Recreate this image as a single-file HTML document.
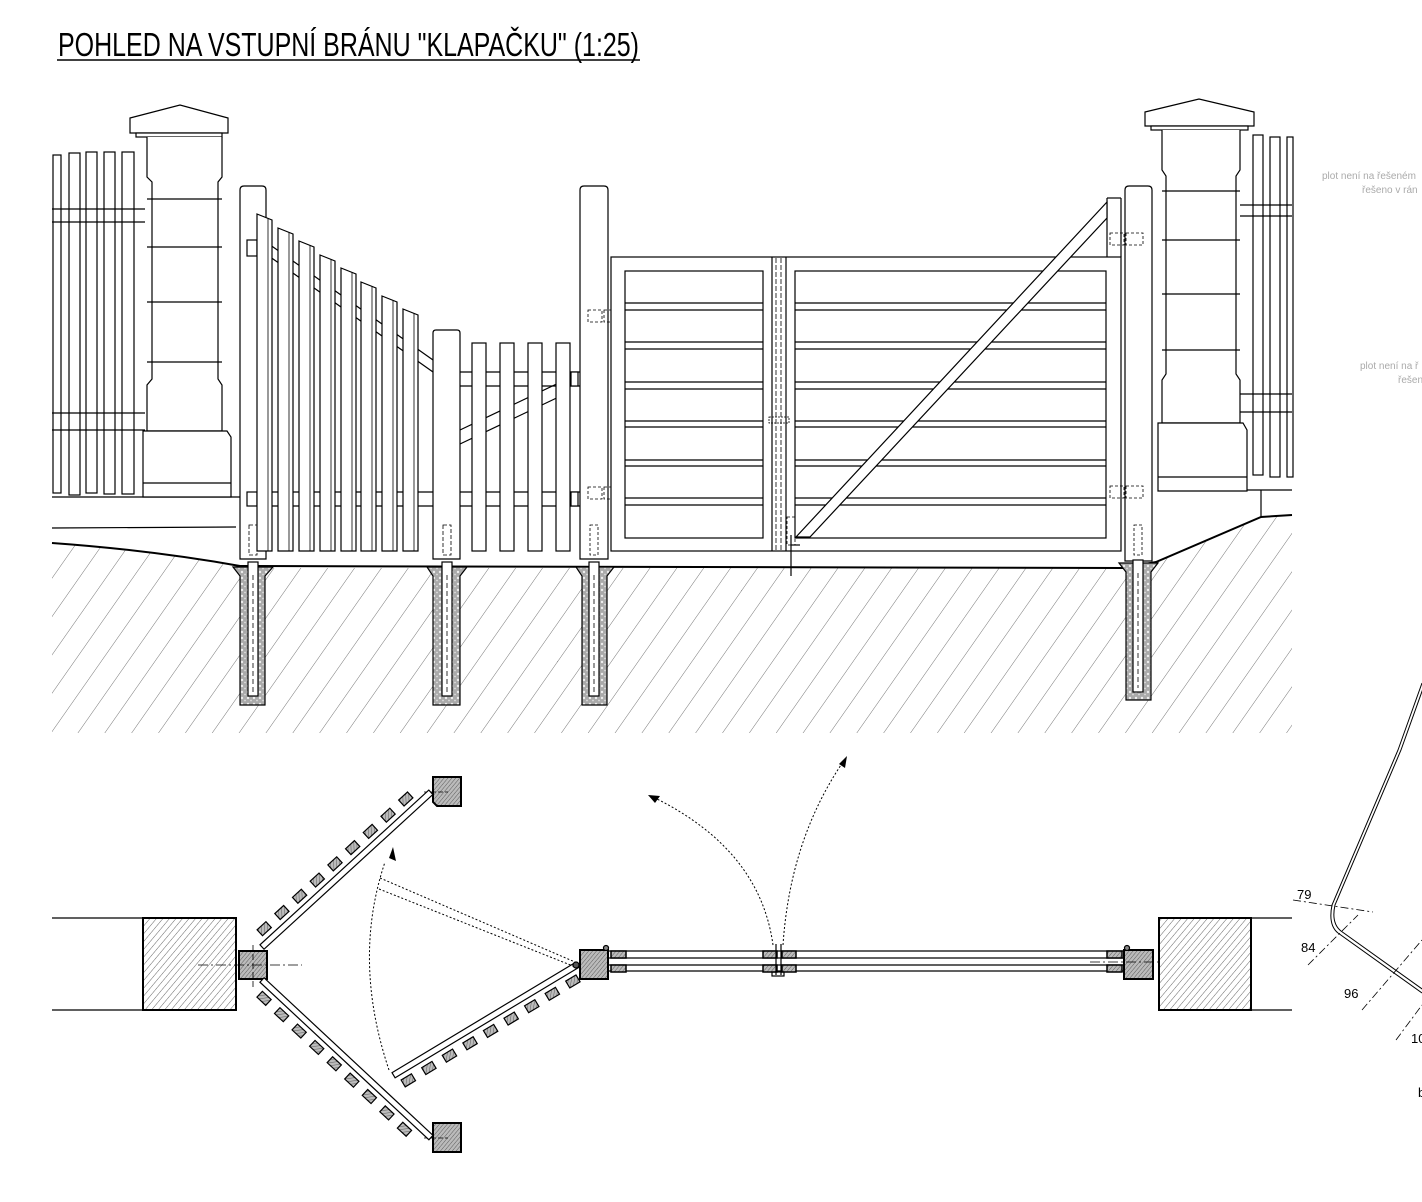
<!DOCTYPE html>
<html><head><meta charset="utf-8"><style>
html,body{margin:0;padding:0;background:#fff;}
svg{display:block;}
</style></head><body>
<svg width="1422" height="1202" viewBox="0 0 1422 1202" xmlns="http://www.w3.org/2000/svg" font-family="Liberation Sans, sans-serif">
<defs>
<pattern id="gh" width="22" height="22" patternUnits="userSpaceOnUse" patternTransform="rotate(35)">
<line x1="0" y1="0" x2="0" y2="22" stroke="#777" stroke-width="1"/>
</pattern>
<pattern id="ph" width="5" height="5" patternUnits="userSpaceOnUse" patternTransform="rotate(40)">
<rect width="5" height="5" fill="#fff"/>
<line x1="0" y1="0" x2="0" y2="5" stroke="#666" stroke-width="1"/>
</pattern>
<pattern id="sh" width="3" height="3" patternUnits="userSpaceOnUse" patternTransform="rotate(40)">
<rect width="3" height="3" fill="#bbb"/>
<line x1="0" y1="0" x2="0" y2="3" stroke="#444" stroke-width="0.8"/>
</pattern>
<pattern id="conc" width="6" height="6" patternUnits="userSpaceOnUse">
<rect width="6" height="6" fill="#aaa"/>
<circle cx="2" cy="2" r="1.2" fill="#eee"/><circle cx="5" cy="4.5" r="0.9" fill="#ddd"/>
</pattern>
</defs>

<!-- Title -->
<text x="58" y="56" font-size="33" textLength="581" lengthAdjust="spacingAndGlyphs" fill="#000">POHLED NA VSTUPNÍ BRÁNU "KLAPAČKU" (1:25)</text>
<line x1="57" y1="60" x2="640" y2="60" stroke="#000" stroke-width="1.5"/>

<!-- Ground hatch -->
<path d="M52,543 Q150,550 240,566 L240,568 L1123,568 L1156,562 L1261,517 L1292,515 L1292,733 L52,733 Z" fill="url(#gh)"/>
<path d="M52,543 Q150,550 240,566 L1123,568 L1156,562 L1261,517 L1292,515" fill="none" stroke="#000" stroke-width="2"/>

<g fill="none" stroke="#000" stroke-width="1.2">
<!-- left ground lines -->
<line x1="52" y1="497" x2="240" y2="497"/>
<line x1="52" y1="528" x2="236" y2="527"/>

<!-- Left pickets -->
<g fill="#fff">
<rect x="53" y="155" width="8" height="338"/>
<rect x="69" y="153" width="11" height="342"/>
<rect x="86" y="152" width="11" height="341"/>
<rect x="104" y="152" width="11" height="342"/>
<rect x="122" y="152" width="12" height="342"/>
</g>
<line x1="52" y1="209" x2="145" y2="209"/><line x1="52" y1="222" x2="145" y2="222"/>
<line x1="52" y1="413" x2="145" y2="413"/><line x1="52" y1="430" x2="145" y2="430"/>

<!-- Left pillar -->
<path d="M130,118 L180,105 L228,118 L228,133 L130,133 Z" fill="#fff"/>
<rect x="136" y="133" width="86" height="4" fill="#fff"/>
<path d="M147,137 L147,177 L152,182 L152,379 L147,385 L147,431 L222,431 L222,385 L218,379 L218,182 L222,177 L222,137" fill="#fff"/>
<line x1="147" y1="199" x2="222" y2="199"/><line x1="147" y1="247" x2="222" y2="247"/>
<line x1="147" y1="302" x2="222" y2="302"/><line x1="147" y1="362" x2="222" y2="362"/>
<path d="M143,431 L227,431 L231,437 L231,497 L143,497 Z" fill="#fff"/>
<line x1="143" y1="483" x2="231" y2="483"/>

<!-- Right pillar -->
<path d="M1145,112 L1199,99 L1254,112 L1254,126 L1145,126 Z" fill="#fff"/>
<rect x="1151" y="126" width="97" height="4" fill="#fff"/>
<path d="M1162,130 L1162,170 L1166,176 L1166,374 L1162,380 L1162,423 L1240,423 L1240,380 L1236,374 L1236,176 L1240,170 L1240,130" fill="#fff"/>
<line x1="1162" y1="191" x2="1240" y2="191"/><line x1="1162" y1="240" x2="1240" y2="240"/>
<line x1="1162" y1="294" x2="1240" y2="294"/><line x1="1162" y1="350" x2="1240" y2="350"/>
<path d="M1158,423 L1243,423 L1247,430 L1247,491 L1158,491 Z" fill="#fff"/>
<line x1="1158" y1="477" x2="1247" y2="477"/>
<line x1="1247" y1="490" x2="1292" y2="490"/><line x1="1261" y1="490" x2="1261" y2="517"/>
<!-- right pickets -->
<g fill="#fff">
<rect x="1253" y="135" width="10" height="340"/>
<rect x="1270" y="137" width="10" height="340"/>
<rect x="1287" y="137" width="6" height="340"/>
</g>
<line x1="1240" y1="205" x2="1292" y2="205"/><line x1="1240" y1="216" x2="1292" y2="216"/>
<line x1="1240" y1="394" x2="1292" y2="394"/><line x1="1240" y1="412" x2="1292" y2="412"/>

<!-- Rails left panel -->
<line x1="266" y1="492" x2="580" y2="492"/><line x1="266" y1="506" x2="580" y2="506"/>
<line x1="266" y1="242" x2="433" y2="360"/><line x1="266" y1="254" x2="433" y2="372"/>
<line x1="460" y1="372" x2="580" y2="372"/><line x1="460" y1="386" x2="580" y2="386"/>
<line x1="460" y1="430" x2="565" y2="380"/><line x1="460" y1="444" x2="565" y2="394"/>

<!-- Post 1 -->
<path d="M240,559 L240,190 Q240,186 244,186 L262,186 Q266,186 266,190 L266,559 Z" fill="#fff"/>
<rect x="247" y="240" width="10" height="16" fill="#fff"/>
<rect x="247" y="492" width="10" height="14" fill="#fff"/>
<!-- slanted pickets -->
<g fill="#fff">
<path d="M257,214 L272,220 L272,551 L257,551 Z"/>
<path d="M278,228 L293,234 L293,551 L278,551 Z"/>
<path d="M299,241 L314,247 L314,551 L299,551 Z"/>
<path d="M320,255 L335,261 L335,551 L320,551 Z"/>
<path d="M341,268 L356,274 L356,551 L341,551 Z"/>
<path d="M361,282 L376,288 L376,551 L361,551 Z"/>
<path d="M382,296 L397,302 L397,551 L382,551 Z"/>
<path d="M403,309 L418,315 L418,551 L403,551 Z"/>
</g>
<g stroke-width="0.8">
<line x1="268" y1="218" x2="268" y2="551"/><line x1="289" y1="232" x2="289" y2="551"/>
<line x1="310" y1="245" x2="310" y2="551"/><line x1="331" y1="259" x2="331" y2="551"/>
<line x1="352" y1="272" x2="352" y2="551"/><line x1="372" y1="286" x2="372" y2="551"/>
<line x1="393" y1="300" x2="393" y2="551"/><line x1="414" y1="313" x2="414" y2="551"/>
</g>
<rect x="249" y="525" width="8" height="30" stroke-dasharray="4,2" stroke-width="0.8"/>

<!-- Post 2 -->
<path d="M433,559 L433,333 Q433,330 436,330 L457,330 Q460,330 460,333 L460,559 Z" fill="#fff"/>
<rect x="443" y="525" width="8" height="30" stroke-dasharray="4,2" stroke-width="0.8"/>
<g fill="#fff">
<rect x="472" y="343" width="14" height="208"/>
<rect x="500" y="343" width="14" height="208"/>
<rect x="528" y="343" width="14" height="208"/>
<rect x="556" y="343" width="14" height="208"/>
</g>
<rect x="571" y="372" width="7" height="14" fill="#fff"/><rect x="571" y="492" width="7" height="14" fill="#fff"/>
<line x1="578" y1="386" x2="604" y2="384" stroke-dasharray="3,2" stroke-width="0.8"/>
<line x1="578" y1="506" x2="604" y2="504" stroke-dasharray="3,2" stroke-width="0.8"/>

<!-- Post 3 -->
<path d="M580,559 L580,190 Q580,186 584,186 L604,186 Q608,186 608,190 L608,559 Z" fill="#fff"/>
<g stroke-dasharray="3,2" stroke-width="0.8">
<rect x="588" y="310" width="14" height="12"/><rect x="604" y="310" width="17" height="12"/>
<rect x="588" y="487" width="14" height="12"/><rect x="604" y="487" width="17" height="12"/>
<rect x="590" y="525" width="8" height="30"/>
</g>

<!-- Gate frame -->
<rect x="611" y="257" width="510" height="294" fill="#fff"/>
<line x1="1107" y1="198" x2="1107" y2="257"/><line x1="1121" y1="198" x2="1121" y2="257"/><line x1="1107" y1="198" x2="1121" y2="198"/>
<rect x="625" y="271" width="138" height="267"/>
<rect x="795" y="271" width="311" height="267"/>
<line x1="772" y1="257" x2="772" y2="551"/><line x1="786" y1="257" x2="786" y2="551"/>
<line x1="776" y1="258" x2="776" y2="550" stroke-dasharray="5,2" stroke-width="0.8"/>
<line x1="781" y1="258" x2="781" y2="550" stroke-dasharray="5,2" stroke-width="0.8"/>
<rect x="769" y="417" width="20" height="6" stroke-dasharray="2,1" stroke-width="0.8"/>
<g>
<line x1="625" y1="303" x2="763" y2="303"/><line x1="625" y1="310" x2="763" y2="310"/>
<line x1="625" y1="342" x2="763" y2="342"/><line x1="625" y1="349" x2="763" y2="349"/>
<line x1="625" y1="382" x2="763" y2="382"/><line x1="625" y1="389" x2="763" y2="389"/>
<line x1="625" y1="421" x2="763" y2="421"/><line x1="625" y1="427" x2="763" y2="427"/>
<line x1="625" y1="460" x2="763" y2="460"/><line x1="625" y1="466" x2="763" y2="466"/>
<line x1="625" y1="498" x2="763" y2="498"/><line x1="625" y1="505" x2="763" y2="505"/>
<line x1="795" y1="303" x2="1106" y2="303"/><line x1="795" y1="310" x2="1106" y2="310"/>
<line x1="795" y1="342" x2="1106" y2="342"/><line x1="795" y1="349" x2="1106" y2="349"/>
<line x1="795" y1="382" x2="1106" y2="382"/><line x1="795" y1="389" x2="1106" y2="389"/>
<line x1="795" y1="421" x2="1106" y2="421"/><line x1="795" y1="427" x2="1106" y2="427"/>
<line x1="795" y1="460" x2="1106" y2="460"/><line x1="795" y1="466" x2="1106" y2="466"/>
<line x1="795" y1="498" x2="1106" y2="498"/><line x1="795" y1="505" x2="1106" y2="505"/>
</g>
<!-- diagonal brace -->
<path d="M796,537 L810,537 L1107,218 L1107,202 Z" fill="#fff"/>
<!-- latch -->
<rect x="787" y="517" width="8" height="28" stroke-dasharray="3,2" stroke-width="0.8"/>
<line x1="791" y1="535" x2="791" y2="576"/><line x1="791" y1="545" x2="800" y2="545"/>

<!-- Post 4 -->
<path d="M1125,561 L1125,190 Q1125,186 1129,186 L1148,186 Q1152,186 1152,190 L1152,561 Z" fill="#fff"/>
<g stroke-dasharray="3,2" stroke-width="0.8">
<rect x="1110" y="233" width="14" height="12"/><rect x="1126" y="233" width="17" height="12"/>
<rect x="1110" y="486" width="14" height="12"/><rect x="1126" y="486" width="17" height="12"/>
<rect x="1134" y="525" width="8" height="30"/>
</g>
</g>

<!-- Footings -->
<g stroke="#000" stroke-width="1.2">
<g>
<path d="M233,567 L273,567 L265,576 L265,705 L240,705 L240,576 Z" fill="url(#conc)"/>
<rect x="248" y="562" width="10" height="134" fill="#fff"/>
<line x1="253" y1="575" x2="253" y2="693" stroke-dasharray="5,3" stroke-width="0.8"/>
</g>
<g>
<path d="M427,567 L467,567 L460,576 L460,705 L433,705 L433,576 Z" fill="url(#conc)"/>
<rect x="442" y="562" width="10" height="134" fill="#fff"/>
<line x1="447" y1="575" x2="447" y2="693" stroke-dasharray="5,3" stroke-width="0.8"/>
</g>
<g>
<path d="M576,567 L614,567 L607,576 L607,705 L582,705 L582,576 Z" fill="url(#conc)"/>
<rect x="589" y="562" width="10" height="134" fill="#fff"/>
<line x1="594" y1="575" x2="594" y2="693" stroke-dasharray="5,3" stroke-width="0.8"/>
</g>
<g>
<path d="M1119,563 L1158,563 L1151,572 L1151,700 L1126,700 L1126,572 Z" fill="url(#conc)"/>
<rect x="1133" y="560" width="10" height="132" fill="#fff"/>
<line x1="1138" y1="573" x2="1138" y2="688" stroke-dasharray="5,3" stroke-width="0.8"/>
</g>
</g>

<!-- Gray notes -->
<g fill="#aaa" font-size="10">
<text x="1322" y="179">plot není na řešeném</text>
<text x="1362" y="193">řešeno v rán</text>
<text x="1360" y="369">plot není na ř</text>
<text x="1398" y="383">řešen</text>
</g>

<!-- ===== PLAN VIEW ===== -->
<g stroke="#000" stroke-width="1.2" fill="none">
<line x1="52" y1="918" x2="143" y2="918"/><line x1="52" y1="1010" x2="143" y2="1010"/>
<rect x="143" y="918" width="93" height="92" fill="url(#ph)" stroke-width="2"/>
<rect x="239" y="951" width="28" height="28" fill="url(#sh)" stroke-width="2"/>
<line x1="198" y1="965" x2="302" y2="965" stroke-dasharray="10,3,2,3" stroke-width="0.8"/>
<line x1="253" y1="945" x2="253" y2="988" stroke-dasharray="6,3" stroke-width="0.8"/>

<!-- upper square -->
<path d="M433,777 L461,777 L461,806 L437,806 L433,802 Z" fill="url(#sh)" stroke-width="2"/>
<path d="M433,1123 L461,1123 L461,1152 L433,1152 L433,1127 Z" fill="url(#sh)" stroke-width="2"/>
<line x1="424" y1="792" x2="448" y2="792" stroke-dasharray="5,2" stroke-width="0.8"/>
<line x1="424" y1="1138" x2="448" y2="1138" stroke-dasharray="5,2" stroke-width="0.8"/>

<!-- upper leaf -->
<g transform="translate(262,947) rotate(-42.5)">
<rect x="0" y="-3" width="229" height="6" fill="#fff"/>
<g fill="url(#sh)" stroke-width="1.2">
<rect x="8" y="-16" width="12" height="8"/><rect x="32" y="-16" width="12" height="8"/>
<rect x="56" y="-16" width="12" height="8"/><rect x="80" y="-16" width="12" height="8"/>
<rect x="104" y="-16" width="12" height="8"/><rect x="128" y="-16" width="12" height="8"/>
<rect x="152" y="-16" width="12" height="8"/><rect x="176" y="-16" width="12" height="8"/>
<rect x="200" y="-16" width="12" height="8"/>
</g>
</g>
<!-- lower leaf -->
<g transform="translate(262,980) rotate(43)">
<rect x="0" y="-3" width="231" height="6" fill="#fff"/>
<g fill="url(#sh)" stroke-width="1.2">
<rect x="8" y="8" width="12" height="8"/><rect x="32" y="8" width="12" height="8"/>
<rect x="56" y="8" width="12" height="8"/><rect x="80" y="8" width="12" height="8"/>
<rect x="104" y="8" width="12" height="8"/><rect x="128" y="8" width="12" height="8"/>
<rect x="152" y="8" width="12" height="8"/><rect x="176" y="8" width="12" height="8"/>
<rect x="200" y="8" width="12" height="8"/>
</g>
</g>
<!-- open leaf -->
<g transform="translate(577,965) rotate(149)">
<rect x="0" y="-3" width="214" height="6" fill="#fff"/>
<g fill="url(#sh)" stroke-width="1.2">
<rect x="6" y="-16" width="12" height="8"/><rect x="30" y="-16" width="12" height="8"/>
<rect x="54" y="-16" width="12" height="8"/><rect x="78" y="-16" width="12" height="8"/>
<rect x="102" y="-16" width="12" height="8"/><rect x="126" y="-16" width="12" height="8"/>
<rect x="150" y="-16" width="12" height="8"/><rect x="174" y="-16" width="12" height="8"/>
<rect x="198" y="-16" width="12" height="8"/>
</g>
</g>
<circle cx="576" cy="965" r="3" fill="#555"/>

<!-- swing arc and dotted ghost leaf -->
<path d="M389,1070 Q352,960 385,862" stroke-dasharray="2,2" stroke-width="1"/>
<path d="M389,858 L393,847 L396,861 Z" fill="#000" stroke="none"/>
<line x1="380" y1="878" x2="575" y2="962" stroke-dasharray="2,2" stroke-width="1"/>
<line x1="379" y1="889" x2="573" y2="966" stroke-dasharray="2,2" stroke-width="1"/>

<!-- gate plan -->
<rect x="580" y="950" width="28" height="29" fill="url(#sh)" stroke-width="2"/>
<circle cx="606" cy="948" r="2.5" fill="#888"/>
<line x1="608" y1="951" x2="1124" y2="951"/><line x1="608" y1="958" x2="1124" y2="958"/>
<line x1="608" y1="965" x2="1124" y2="965"/><line x1="608" y1="971" x2="1124" y2="971"/>
<g fill="url(#sh)" stroke-width="1.5">
<rect x="611" y="951" width="15" height="7"/><rect x="611" y="965" width="15" height="7"/>
<rect x="763" y="951" width="14" height="7"/><rect x="782" y="951" width="14" height="7"/>
<rect x="763" y="965" width="14" height="7"/><rect x="782" y="965" width="14" height="7"/>
<rect x="1107" y="951" width="15" height="7"/><rect x="1107" y="965" width="15" height="7"/>
</g>
<line x1="776" y1="944" x2="776" y2="975"/><line x1="781" y1="944" x2="781" y2="975"/>
<rect x="772" y="972" width="12" height="4"/>
<rect x="1124" y="950" width="29" height="29" fill="url(#sh)" stroke-width="2"/>
<circle cx="1127" cy="948" r="2.5" fill="#888"/>
<line x1="1090" y1="962" x2="1196" y2="962" stroke-dasharray="10,3,2,3" stroke-width="0.8"/>
<rect x="1159" y="918" width="92" height="92" fill="url(#ph)" stroke-width="2"/>
<line x1="1251" y1="918" x2="1292" y2="918"/><line x1="1251" y1="1010" x2="1292" y2="1010"/>

<!-- dotted swing arrows -->
<path d="M773,945 Q760,850 655,798" stroke-dasharray="2,2" stroke-width="1"/>
<path d="M648,795 L660,796 L655,803 Z" fill="#000" stroke="none"/>
<path d="M783,945 Q790,840 843,762" stroke-dasharray="2,2" stroke-width="1"/>
<path d="M847,756 L845,768 L839,764 Z" fill="#000" stroke="none"/>

<!-- right sketch -->
<path d="M1422,683 L1398,750 L1332,905 Q1328,925 1338,933 L1422,993" stroke-width="1"/>
<path d="M1425,683 L1401,750 L1335,905 Q1331,923 1341,931 L1425,991" stroke-width="1"/>
<line x1="1293" y1="900" x2="1373" y2="912" stroke-dasharray="8,3,2,3" stroke-width="0.8"/>
<line x1="1308" y1="965" x2="1358" y2="915" stroke-dasharray="8,3,2,3" stroke-width="0.8"/>
<line x1="1362" y1="1010" x2="1422" y2="940" stroke-dasharray="8,3,2,3" stroke-width="0.8"/>
<line x1="1396" y1="1040" x2="1422" y2="1005" stroke-dasharray="8,3,2,3" stroke-width="0.8"/>
</g>
<g font-size="13" fill="#000">
<text x="1297" y="899">79</text>
<text x="1301" y="952">84</text>
<text x="1344" y="998">96</text>
<text x="1411" y="1043">10</text>
<text x="1418" y="1097">b</text>
</g>
</svg>
</body></html>
